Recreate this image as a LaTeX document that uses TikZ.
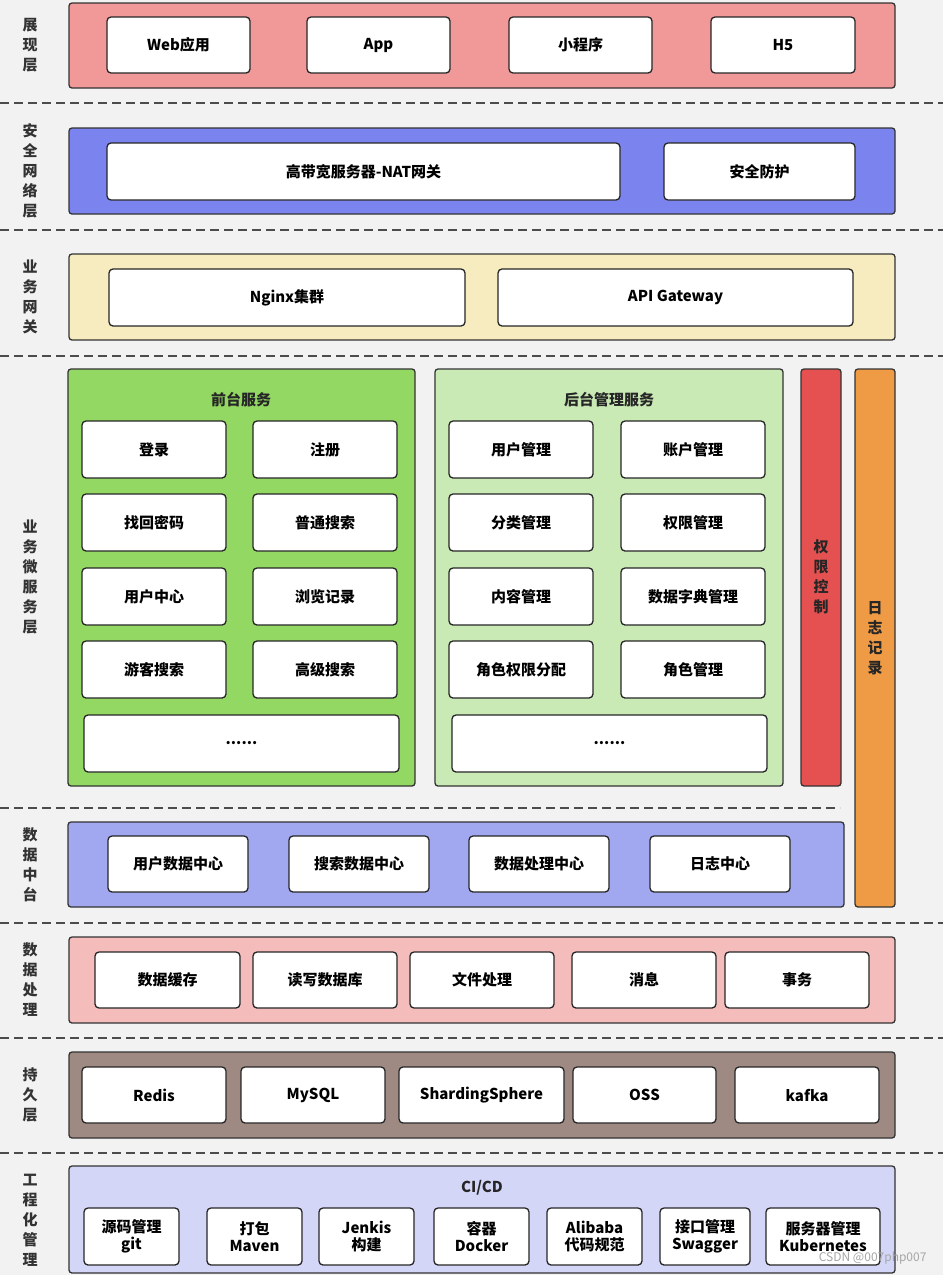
\documentclass[tikz,border=0pt]{standalone}
\usepackage{fontspec}
\setmainfont{Noto Sans CJK SC}
\definecolor{c1}{HTML}{F19999}
\definecolor{c2}{HTML}{7B84EE}
\definecolor{c3}{HTML}{F6ECC0}
\definecolor{cf}{HTML}{92D862}
\definecolor{cb}{HTML}{C9EAB5}
\definecolor{cp}{HTML}{E55050}
\definecolor{cr}{HTML}{EF9A45}
\definecolor{c5}{HTML}{A1A8F0}
\definecolor{c6}{HTML}{F5BCBC}
\definecolor{c7}{HTML}{9E8A82}
\definecolor{c8}{HTML}{D3D6F7}
\begin{document}
\begin{tikzpicture}[x=1pt,y=-1pt,
  layer/.style={draw=black!80,line width=1.3pt,rounded corners=3pt},
  box/.style={draw=black!85,line width=1.3pt,rounded corners=4pt,fill=white,inner sep=0pt,align=center,font=\fontsize{15}{17}\selectfont\bfseries},
  lab/.style={align=center,font=\fontsize{15}{20}\selectfont\bfseries,text=black!80},
  sep/.style={dashed,line width=1.5pt,draw=black!70,dash pattern=on 9pt off 5pt}]
\newcommand\bx[6]{\node[box,minimum width={(#4-#2)*1pt},minimum height={(#5-#3)*1pt}] (#1) at ({(#2+#4)/2},{(#3+#5)/2}) {#6};}
\newcommand\ly[6]{\node[layer,fill=#6,inner sep=0pt,minimum width={(#4-#2)*1pt},minimum height={(#5-#3)*1pt}] (#1) at ({(#2+#4)/2},{(#3+#5)/2}) {};}
\fill[black!5] (0,0) rectangle (943,1275);
\useasboundingbox (0,0) rectangle (943,1275);
\foreach \y in {103,230,356,923,1038,1153} \draw[sep] (0,\y) -- (943,\y);
\draw[sep] (0,808) -- (840,808);
\node[lab] (l1) at (30,45) {展\\现\\层};
\node[lab] (l2) at (30,171) {安\\全\\网\\络\\层};
\node[lab] (l3) at (30,297) {业\\务\\网\\关};
\node[lab] (l4) at (30,577) {业\\务\\微\\服\\务\\层};
\node[lab] (l5) at (30,865) {数\\据\\中\\台};
\node[lab] (l6) at (30,980) {数\\据\\处\\理};
\node[lab] (l7) at (30,1095) {持\\久\\层};
\node[lab] (l8) at (30,1220) {工\\程\\化\\管\\理};
\ly{L1}{69}{3}{895}{88}{c1}
\bx{a1}{107}{17}{250}{73}{Web应用}
\bx{a2}{307}{17}{450}{73}{App}
\bx{a3}{509}{17}{652}{73}{小程序}
\bx{a4}{711}{17}{855}{73}{H5}
\ly{L2}{69}{128}{895}{214}{c2}
\bx{b1}{107}{143}{620}{200}{高带宽服务器-NAT网关}
\bx{b2}{664}{143}{855}{200}{安全防护}
\ly{L3}{69}{254}{895}{340}{c3}
\bx{c1}{109}{269}{465}{326}{Nginx集群}
\bx{c2}{498}{269}{853}{326}{API Gateway}
\ly{F}{68}{369}{415}{786}{cf}
\node[lab,text=black!85] (ft) at (241,400) {前台服务};
\bx{f1}{82}{421}{226}{478}{登录}
\bx{f2}{253}{421}{397}{478}{注册}
\bx{f3}{82}{494}{226}{551}{找回密码}
\bx{f4}{253}{494}{397}{551}{普通搜索}
\bx{f5}{82}{568}{226}{625}{用户中心}
\bx{f6}{253}{568}{397}{625}{浏览记录}
\bx{f7}{82}{641}{226}{698}{游客搜索}
\bx{f8}{253}{641}{397}{698}{高级搜索}
\bx{f9}{84}{715}{399}{772}{......}
\ly{B}{435}{369}{783}{786}{cb}
\node[lab,text=black!85] (bt) at (609,400) {后台管理服务};
\bx{g1}{449}{421}{593}{478}{用户管理}
\bx{g2}{621}{421}{765}{478}{账户管理}
\bx{g3}{449}{494}{593}{551}{分类管理}
\bx{g4}{621}{494}{765}{551}{权限管理}
\bx{g5}{449}{568}{593}{625}{内容管理}
\bx{g6}{621}{568}{765}{625}{数据字典管理}
\bx{g7}{449}{641}{593}{698}{角色权限分配}
\bx{g8}{621}{641}{765}{698}{角色管理}
\bx{g9}{452}{715}{767}{772}{......}
\ly{P}{801}{369}{841}{786}{cp}
\node[lab,text=black!85] (pt) at (821,577) {权\\限\\控\\制};
\ly{R}{855}{369}{895}{907}{cr}
\node[lab,text=black!85] (rt) at (875,638) {日\\志\\记\\录};
\ly{L5}{68}{822}{844}{907}{c5}
\bx{d1}{108}{836}{248}{892}{用户数据中心}
\bx{d2}{289}{836}{429}{892}{搜索数据中心}
\bx{d3}{469}{836}{609}{892}{数据处理中心}
\bx{d4}{650}{836}{790}{892}{日志中心}
\ly{L6}{69}{937}{895}{1023}{c6}
\bx{e1}{95}{952}{240}{1008}{数据缓存}
\bx{e2}{253}{952}{397}{1008}{读写数据库}
\bx{e3}{410}{952}{554}{1008}{文件处理}
\bx{e4}{572}{952}{716}{1008}{消息}
\bx{e5}{725}{952}{869}{1008}{事务}
\ly{L7}{69}{1052}{895}{1138}{c7}
\bx{h1}{82}{1067}{226}{1123}{Redis}
\bx{h2}{241}{1067}{385}{1123}{MySQL}
\bx{h3}{399}{1067}{564}{1123}{ShardingSphere}
\bx{h4}{573}{1067}{716}{1123}{OSS}
\bx{h5}{735}{1067}{879}{1123}{kafka}
\ly{L8}{69}{1166}{895}{1273}{c8}
\node[lab,text=black!85] (ci) at (482,1188) {CI/CD};
\bx{i1}{84}{1208}{179}{1265}{源码管理\\git}
\bx{i2}{207}{1208}{302}{1265}{打包\\Maven}
\bx{i3}{319}{1208}{414}{1265}{Jenkis\\构建}
\bx{i4}{434}{1208}{529}{1265}{容器\\Docker}
\bx{i5}{547}{1208}{642}{1265}{Alibaba\\代码规范}
\bx{i6}{660}{1208}{750}{1265}{接口管理\\Swagger}
\bx{i7}{766}{1208}{880}{1265}{服务器管理\\Kubernetes}
\node[text=black!35,font=\fontsize{12}{14}\selectfont,anchor=east] (wm) at (930,1258) {CSDN @007php007};
\end{tikzpicture}
\end{document}
